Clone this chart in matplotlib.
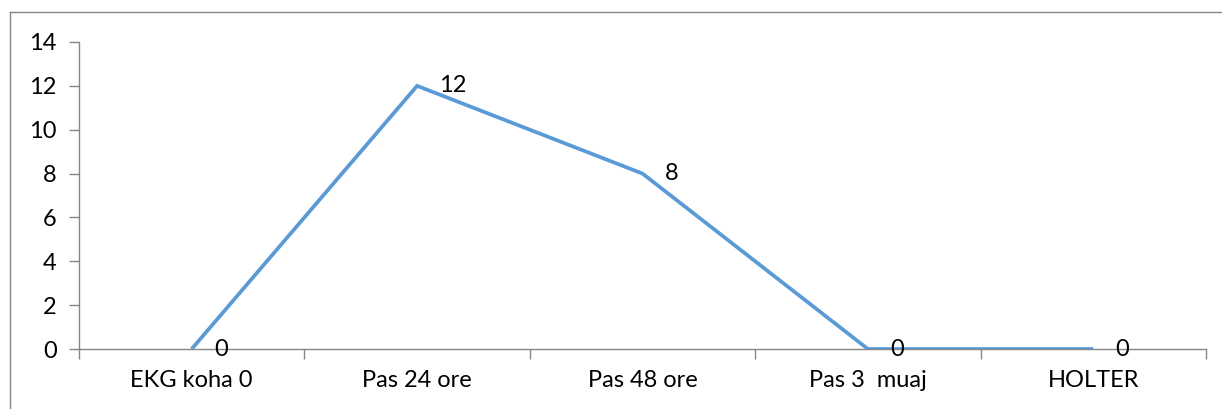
import matplotlib.pyplot as plt
from matplotlib.lines import Line2D

categories = ["EKG koha 0", "Pas 24 ore", "Pas 48 ore", "Pas 3  muaj", "HOLTER"]
values = [0, 12, 8, 0, 0]
y_ticks = [0, 2, 4, 6, 8, 10, 12, 14]

plt.rcParams['font.family'] = ['Lato', 'DejaVu Sans']
axis_grey = "#868686"
line_blue = "#5B9BD5"

fig = plt.figure(figsize=(12.22, 4.09), dpi=100)
ax = fig.add_axes([79 / 1222, 1 - 349 / 409, (1206 - 79) / 1222, (349 - 42) / 409])

x = list(range(len(categories)))
ax.plot(x, values, color=line_blue, lw=2.7, solid_joinstyle='miter', solid_capstyle='butt')

for xi, v in zip(x, values):
    ax.annotate(str(v), (xi, v), xytext=(16, 0), textcoords='offset points',
                ha='left', va='center', fontsize=17, color='black')

ax.set_xlim(-0.5, len(categories) - 0.5)
ax.set_ylim(0, 14)
ax.set_yticks(y_ticks)
ax.set_xticks(x)
ax.set_xticklabels(categories)
ax.set_xticks([i - 0.5 for i in range(len(categories) + 1)], minor=True)

ax.tick_params(axis='y', which='major', direction='out', length=7, width=1, color=axis_grey,
               labelsize=17, pad=9)
ax.tick_params(axis='x', which='major', length=0, labelsize=17, pad=15)
ax.tick_params(axis='x', which='minor', direction='out', length=7, width=1, color=axis_grey)

for side in ['top', 'right']:
    ax.spines[side].set_visible(False)
for side in ['left', 'bottom']:
    ax.spines[side].set_color(axis_grey)
    ax.spines[side].set_linewidth(1)
ax.lines[0].set_zorder(3)

# outer chart frame (left and top edges visible)
fig.add_artist(Line2D([10 / 1222, 10 / 1222], [0, 1 - 12 / 409], color=axis_grey, lw=1))
fig.add_artist(Line2D([10 / 1222, 1], [1 - 12 / 409, 1 - 12 / 409], color=axis_grey, lw=1))

fig.savefig("out.png", dpi=100)
